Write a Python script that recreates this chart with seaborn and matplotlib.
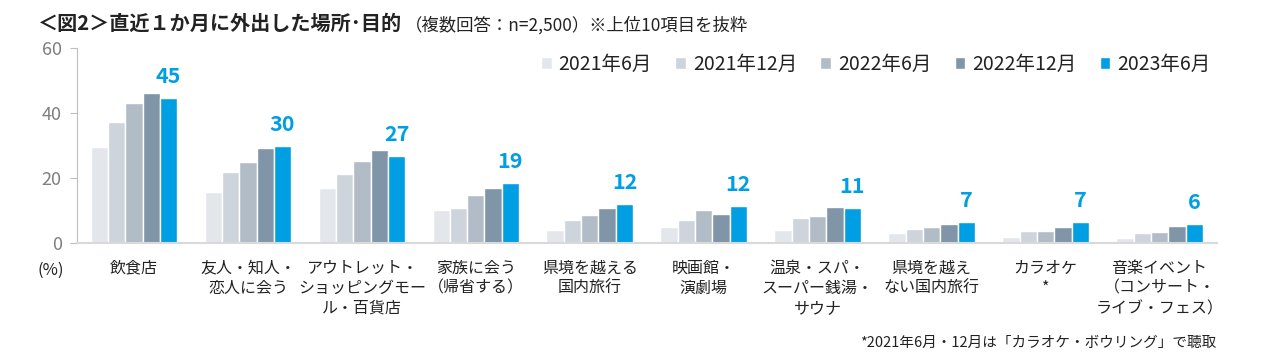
import pandas as pd
import matplotlib.pyplot as plt
import seaborn as sns

# data
categories = ['飲食店', '友人・知人・\n恋人に会う', 'アウトレット・\nショッピングモー\nル・百貨店',
              '家族に会う\n（帰省する）', '県境を越える\n国内旅行', '映画館・\n演劇場',
              '温泉・スパ・\nスーパー銭湯・\nサウナ', '県境を越え\nない国内旅行', 'カラオケ\n*',
              '音楽イベント\n（コンサート・\nライブ・フェス）']
periods = ['2021年6月', '2021年12月', '2022年6月', '2022年12月', '2023年6月']
v_2021_06 = [29.6, 15.7, 16.9, 10.2, 4.1, 5.0, 4.1, 3.1, 1.9, 1.5]
v_2021_12 = [37.2, 21.8, 21.2, 10.8, 6.9, 7.1, 7.7, 4.3, 3.7, 3.1]
v_2022_06 = [43.1, 24.9, 25.2, 14.8, 8.7, 10.2, 8.3, 4.9, 3.7, 3.4]
v_2022_12 = [46.2, 29.2, 28.6, 17.0, 10.8, 9.0, 11.1, 5.8, 4.9, 5.2]
v_2023_06 = [44.6, 29.8, 26.8, 18.5, 12.0, 11.4, 10.8, 6.4, 6.4, 5.9]
labels_2023 = ['45', '30', '27', '19', '12', '12', '11', '7', '7', '6']
colors = ['#E3E7EC', '#CDD4DC', '#B2BCC7', '#8195A8', '#009FE3']

# build long table
rows = []
for p, vals in zip(periods, [v_2021_06, v_2021_12, v_2022_06, v_2022_12, v_2023_06]):
    for c, v in zip(categories, vals):
        rows.append({'cat': c, 'period': p, 'val': v})
df = pd.DataFrame(rows)

sns.set_style('white')
plt.rcParams['font.family'] = ['Noto Sans CJK JP', 'DejaVu Sans']

fig = plt.figure(figsize=(12.62, 3.63), dpi=100)
ax = fig.add_axes([0.061, 0.331, 0.903, 0.537])

sns.barplot(data=df, x='cat', y='val', hue='period', hue_order=periods,
            palette=colors, width=0.76, gap=0, saturation=1, ax=ax)

# value labels for latest period
ax.bar_label(ax.containers[-1], labels=labels_2023, padding=8,
             color='#009FE3', fontsize=15.5, fontweight='bold')

ax.set_ylim(0, 60)
ax.set_yticks([0, 20, 40, 60])
ax.set_xlim(-0.5, len(categories) - 0.5)
ax.set_xlabel('')
ax.set_ylabel('')
ax.tick_params(axis='y', labelsize=13, labelcolor='#7F7F7F', length=5,
               color='#BFBFBF', direction='out', left=True, pad=6)
ax.tick_params(axis='x', labelsize=11.5, length=0, pad=12, labelcolor='#222222')
for lab in ax.get_xticklabels():
    lab.set_linespacing(1.25)
for s in ['top', 'right']:
    ax.spines[s].set_visible(False)
ax.spines['left'].set_color('#BFBFBF')
ax.spines['bottom'].set_color('#D9D9D9')
ax.spines['bottom'].set_linewidth(1.5)

leg = ax.legend(ncol=5, loc='upper right', bbox_to_anchor=(1.01, 1.06), frameon=False,
                fontsize=14, handlelength=0.55, handleheight=0.55, handletextpad=0.35,
                columnspacing=1.2, labelcolor='#222222')

# title
t1 = fig.text(0.030, 0.935, '＜図2＞直近１か月に外出した場所･目的', fontsize=14.5,
              fontweight='bold', va='center', color='#222222')
fig.canvas.draw()
bb = t1.get_window_extent().transformed(fig.transFigure.inverted())
fig.text(bb.x1 + 0.002, 0.930, '（複数回答：n=2,500）※上位10項目を抜粋', fontsize=12.5,
         va='center', color='#222222')
fig.text(0.030, 0.255, '(%)', fontsize=12, va='center', color='#222222')
fig.text(0.964, 0.055, '*2021年6月・12月は「カラオケ・ボウリング」で聴取', fontsize=10.5,
         ha='right', va='center', color='#222222')

plt.savefig('out.png', dpi=100)
